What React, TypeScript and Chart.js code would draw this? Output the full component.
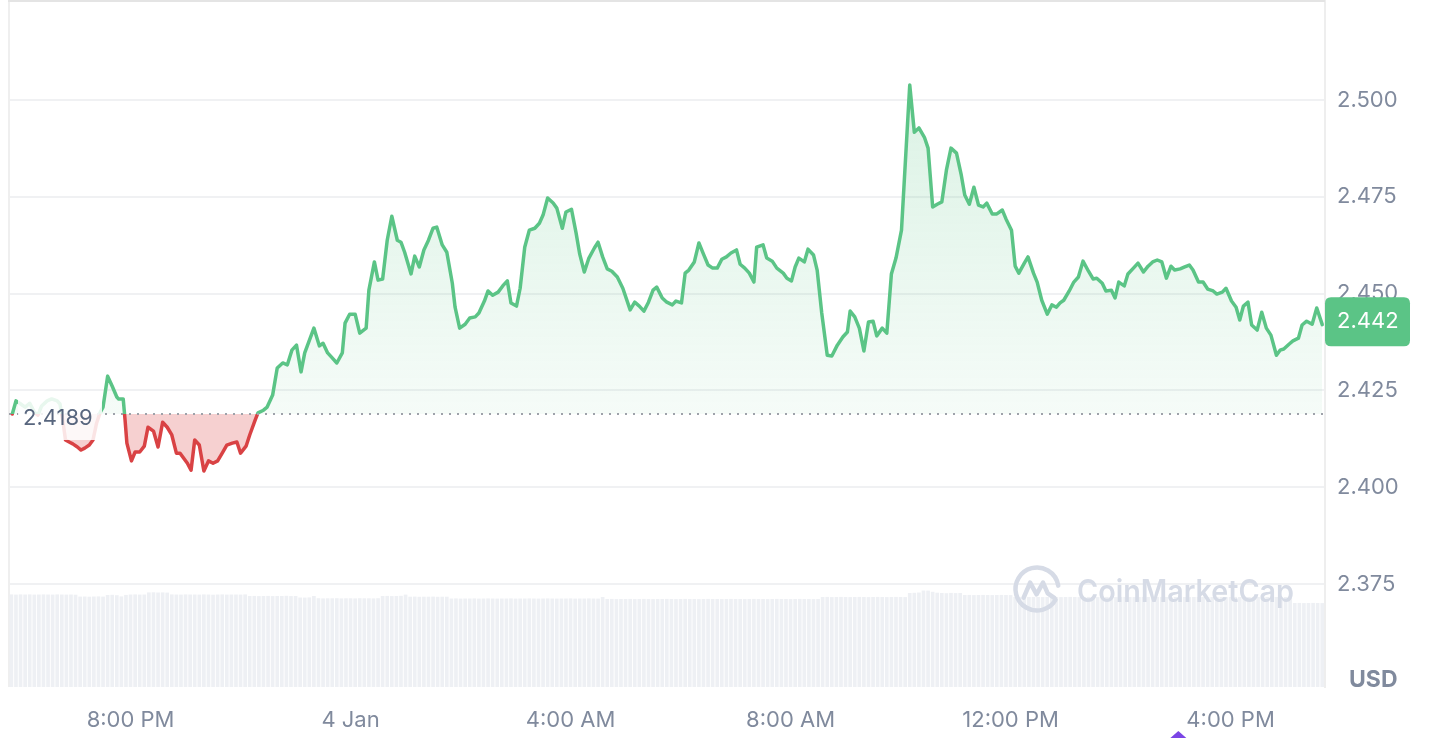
import React, { useEffect, useRef } from 'react';
import { Chart, registerables } from 'chart.js';

Chart.register(...registerables);

// Minutes since 00:00 on 3 Jan (1200 = 8:00 PM, 1440 = 4 Jan 00:00)
const TIMES = [
  1071, 1075, 1079, 1085, 1090, 1095, 1099, 1103, 1109, 1114, 1120, 1123, 1126, 1129, 1133, 1137, 1142, 1146, 1150, 1155,
  1159, 1163, 1167, 1170, 1175, 1180, 1185, 1187, 1192, 1194, 1196, 1201, 1205, 1210, 1215, 1219, 1225, 1230, 1235, 1240,
  1245, 1250, 1254, 1257, 1262, 1266, 1270, 1275, 1280, 1285, 1290, 1295, 1300, 1305, 1311, 1316, 1320, 1326, 1330, 1336,
  1339, 1345, 1349, 1355, 1360, 1366, 1371, 1376, 1381, 1386, 1390, 1400, 1406, 1410, 1415, 1420, 1425, 1431, 1434, 1439,
  1445, 1450, 1457, 1460, 1466, 1470, 1475, 1480, 1485, 1491, 1495, 1499, 1506, 1510, 1515, 1520, 1525, 1530, 1534, 1540,
  1545, 1551, 1554, 1559, 1565, 1570, 1576, 1580, 1586, 1590, 1595, 1601, 1606, 1611, 1615, 1621, 1625, 1630, 1635, 1641,
  1646, 1650, 1655, 1661, 1665, 1671, 1675, 1681, 1686, 1690, 1695, 1700, 1706, 1710, 1715, 1720, 1725, 1731, 1737, 1745,
  1750, 1755, 1760, 1765, 1770, 1774, 1780, 1785, 1791, 1795, 1801, 1805, 1809, 1815, 1820, 1825, 1830, 1835, 1840, 1845,
  1850, 1855, 1861, 1865, 1870, 1875, 1880, 1883, 1890, 1894, 1900, 1905, 1912, 1916, 1921, 1925, 1929, 1935, 1939, 1945,
  1949, 1954, 1960, 1965, 1971, 1977, 1982, 1985, 1990, 1995, 2000, 2005, 2010, 2014, 2020, 2025, 2030, 2035, 2041, 2050,
  2055, 2060, 2066, 2070, 2075, 2080, 2085, 2090, 2095, 2101, 2106, 2110, 2115, 2120, 2125, 2130, 2134, 2140, 2145, 2151,
  2155, 2161, 2165, 2169, 2175, 2179, 2185, 2189, 2194, 2200, 2205, 2210, 2214, 2218, 2224, 2229, 2234, 2239, 2245, 2250,
  2254, 2260, 2264, 2270, 2274, 2278, 2284, 2288, 2294, 2299, 2305, 2310, 2315, 2320, 2325, 2330, 2335, 2339, 2345, 2350,
  2355, 2359, 2365, 2370, 2375, 2381, 2385, 2391, 2395, 2401, 2406, 2410, 2414, 2419, 2423, 2429, 2434, 2439, 2444, 2450,
  2454, 2458, 2464, 2468, 2474, 2478, 2483, 2489, 2494, 2500,
];

const PRICES = [
  2.4189, 2.4223, 2.4217, 2.4207, 2.4217, 2.4194, 2.4186, 2.4210, 2.4223, 2.4228, 2.4223, 2.4215, 2.4174, 2.4122, 2.4117, 2.4112, 2.4104, 2.4096, 2.4101, 2.4109,
  2.4122, 2.4166, 2.4194, 2.4207, 2.4287, 2.4261, 2.4233, 2.4228, 2.4228, 2.4174, 2.4114, 2.4068, 2.4091, 2.4091, 2.4106, 2.4155, 2.4145, 2.4104, 2.4168, 2.4155,
  2.4135, 2.4088, 2.4088, 2.4078, 2.4062, 2.4044, 2.4122, 2.4109, 2.4042, 2.4068, 2.4062, 2.4068, 2.4088, 2.4109, 2.4114, 2.4117, 2.4088, 2.4106, 2.4135, 2.4174,
  2.4192, 2.4199, 2.4207, 2.4238, 2.4308, 2.4321, 2.4316, 2.4354, 2.4367, 2.4298, 2.4347, 2.4411, 2.4365, 2.4372, 2.4347, 2.4334, 2.4321, 2.4347, 2.4424, 2.4447,
  2.4447, 2.4398, 2.4411, 2.4509, 2.4582, 2.4535, 2.4538, 2.4638, 2.4700, 2.4638, 2.4633, 2.4607, 2.4551, 2.4597, 2.4569, 2.4613, 2.4638, 2.4669, 2.4672, 2.4626,
  2.4607, 2.4527, 2.4465, 2.4411, 2.4421, 2.4437, 2.4440, 2.4450, 2.4481, 2.4507, 2.4496, 2.4504, 2.4520, 2.4533, 2.4476, 2.4468, 2.4514, 2.4620, 2.4664, 2.4669,
  2.4682, 2.4703, 2.4747, 2.4734, 2.4721, 2.4669, 2.4711, 2.4718, 2.4657, 2.4602, 2.4556, 2.4592, 2.4618, 2.4633, 2.4595, 2.4564, 2.4558, 2.4543, 2.4514, 2.4458,
  2.4478, 2.4468, 2.4455, 2.4478, 2.4509, 2.4517, 2.4489, 2.4478, 2.4471, 2.4481, 2.4476, 2.4553, 2.4561, 2.4582, 2.4631, 2.4602, 2.4574, 2.4566, 2.4566, 2.4589,
  2.4595, 2.4605, 2.4613, 2.4576, 2.4566, 2.4553, 2.4530, 2.4620, 2.4626, 2.4592, 2.4584, 2.4566, 2.4553, 2.4540, 2.4533, 2.4569, 2.4592, 2.4582, 2.4615, 2.4600,
  2.4561, 2.4450, 2.4341, 2.4339, 2.4367, 2.4388, 2.4401, 2.4455, 2.4440, 2.4411, 2.4352, 2.4427, 2.4429, 2.4391, 2.4411, 2.4398, 2.4551, 2.4592, 2.4664, 2.5039,
  2.4917, 2.4928, 2.4904, 2.4876, 2.4724, 2.4731, 2.4737, 2.4819, 2.4876, 2.4863, 2.4809, 2.4755, 2.4731, 2.4775, 2.4729, 2.4724, 2.4734, 2.4706, 2.4706, 2.4716,
  2.4693, 2.4664, 2.4571, 2.4553, 2.4579, 2.4595, 2.4553, 2.4530, 2.4483, 2.4447, 2.4471, 2.4465, 2.4476, 2.4483, 2.4507, 2.4530, 2.4543, 2.4584, 2.4558, 2.4538,
  2.4540, 2.4527, 2.4507, 2.4509, 2.4489, 2.4530, 2.4520, 2.4551, 2.4566, 2.4579, 2.4556, 2.4571, 2.4582, 2.4587, 2.4582, 2.4540, 2.4571, 2.4561, 2.4564, 2.4569,
  2.4574, 2.4561, 2.4530, 2.4530, 2.4512, 2.4507, 2.4499, 2.4504, 2.4514, 2.4481, 2.4465, 2.4432, 2.4468, 2.4478, 2.4419, 2.4406, 2.4452, 2.4411, 2.4393, 2.4341,
  2.4354, 2.4357, 2.4370, 2.4378, 2.4385, 2.4419, 2.4429, 2.4421, 2.4463, 2.4420,
];

const BASE_PRICE = 2.4189;

// Volume bars (relative units), one per 5 minutes from 17:50 on 3 Jan
const VOLUME_START = 1070;
const VOLUME_STEP = 5;
const VOLUMES = [
  92.6, 92.4, 92.6, 92.5, 92.6, 92.4, 92.5, 92.6, 92.5, 92.4, 92.6, 92.5, 92.4, 92.5, 92.3,
  90.4, 90.5, 90.3, 90.5, 90.6, 90.4,
  92.0, 92.2, 91.8, 90.6, 92.1,
  92.5, 92.6, 92.4, 92.5,
  94.6, 94.7, 94.5, 94.6, 94.4,
  92.6, 92.5, 92.4, 92.6, 92.5, 92.5, 92.4, 92.6, 92.5, 92.3, 92.5, 92.6, 92.4, 92.5, 92.5, 92.4, 92.6,
  91.0, 91.1, 90.9, 91.0, 91.1, 90.9, 91.0, 91.0, 91.2, 90.9, 91.0,
  89.5, 89.4, 89.6, 91.0,
  88.8, 88.6, 88.7, 88.7, 88.8, 88.6, 88.7, 88.7, 88.6, 88.8, 88.7, 88.7, 88.6, 88.8,
  91.0, 91.1, 90.9, 91.0, 91.2, 92.4,
  90.3, 90.4, 90.2, 90.3, 90.3, 90.4, 90.2, 90.3, 90.3,
  88.5, 88.6, 88.4, 88.5, 88.5, 88.6, 88.4, 88.5, 88.6, 88.5, 88.4,
  88.5, 88.5, 88.6, 88.4, 88.5, 88.5, 88.6, 88.5, 88.4, 88.5, 88.6,
  88.5, 88.4, 88.5, 88.5, 88.6, 88.4, 88.5, 88.5, 88.6, 88.5, 88.4,
  90.0,
  88.0, 88.1, 87.9, 88.0, 88.0, 88.1, 87.9, 88.0, 88.1, 88.0,
  87.9, 88.0, 88.0, 88.1, 88.0, 87.9, 88.0, 88.1, 88.0, 88.0,
  87.9, 88.0, 88.1, 88.0, 88.0, 87.9, 88.0, 88.1, 88.0, 88.0,
  87.9, 88.0, 88.1, 88.0, 88.0, 87.9, 88.0, 88.1, 88.0, 88.0,
  87.9, 88.0, 88.1, 88.0, 88.0, 87.9, 88.0,
  90.0, 90.1, 89.9, 90.0, 90.1, 90.0, 89.9, 90.0, 90.1, 90.0,
  89.9, 90.0, 90.1, 90.0, 89.9, 90.0, 90.1, 90.0, 89.9,
  94.0, 94.2, 94.5, 96.5, 96.4, 95.2, 94.3, 94.0, 93.8, 94.1, 93.9, 94.0,
  92.0, 92.1, 91.9, 92.0, 92.1, 92.0, 91.9, 92.0, 92.1, 92.0, 91.9,
  90.0, 90.1, 89.9, 90.0, 90.1, 90.0, 89.9, 90.0, 90.1, 90.0,
  89.9, 90.0, 90.1, 90.0, 89.9, 90.0, 90.1, 90.0, 89.9, 90.0,
  90.1, 90.0, 89.9, 90.0, 90.1, 90.0, 89.9, 90.0, 90.1, 90.0,
  89.9, 90.0, 90.1, 90.0, 89.9, 90.0, 90.1, 90.0, 89.9, 90.0,
  90.1, 90.0, 89.9, 90.0, 90.1, 90.0, 89.9, 90.0, 90.1, 90.0,
  89.9, 90.0, 90.1, 90.0, 89.9, 90.0, 90.1, 90.0, 89.9, 90.0,
  90.0,
  84.0, 84.1, 83.9, 84.0, 84.1, 84.0, 83.9,
];

const X_TICK_TIMES = [1200, 1440, 1680, 1920, 2160, 2400];
const X_TICK_LABELS = ['8:00 PM', '4 Jan', '4:00 AM', '8:00 AM', '12:00 PM', '4:00 PM'];
const Y_TICKS = [2.375, 2.4, 2.425, 2.45, 2.475, 2.5];
const MARKER_TIMES = [2343];

const X_MIN = 1067.4;
const X_MAX = 2503;
const Y_MIN = 2.3484;
const Y_MAX = 2.5256;

const GREEN = '#5bc486';
const RED = '#d94244';
const RED_FILL = 'rgba(220,68,68,0.25)';
const TICK_COLOR = '#808a9d';
const GRID_COLOR = '#f0f1f3';
const WATERMARK = '#d6dbe6';
const FONT = 'Inter';

function lineGradient(chart: any) {
  const { ctx, chartArea, scales } = chart;
  if (!chartArea || !scales || !scales.y) return GREEN;
  const by = scales.y.getPixelForValue(BASE_PRICE);
  const g = ctx.createLinearGradient(0, chartArea.top, 0, chartArea.bottom);
  const f = Math.min(Math.max((by - chartArea.top) / (chartArea.bottom - chartArea.top), 0), 1);
  g.addColorStop(0, GREEN);
  g.addColorStop(f, GREEN);
  g.addColorStop(f, RED);
  g.addColorStop(1, RED);
  return g;
}

function fillGradient(chart: any) {
  const { ctx, chartArea, scales } = chart;
  if (!chartArea || !scales || !scales.y) return 'rgba(91,196,134,0.12)';
  const by = scales.y.getPixelForValue(BASE_PRICE);
  const g = ctx.createLinearGradient(0, chartArea.top, 0, by);
  g.addColorStop(0, 'rgba(91,196,134,0.26)');
  g.addColorStop(1, 'rgba(91,196,134,0.06)');
  return g;
}

function roundRect(ctx: CanvasRenderingContext2D, x: number, y: number, w: number, h: number, r: number) {
  ctx.beginPath();
  ctx.moveTo(x + r, y);
  ctx.lineTo(x + w - r, y);
  ctx.quadraticCurveTo(x + w, y, x + w, y + r);
  ctx.lineTo(x + w, y + h - r);
  ctx.quadraticCurveTo(x + w, y + h, x + w - r, y + h);
  ctx.lineTo(x + r, y + h);
  ctx.quadraticCurveTo(x, y + h, x, y + h - r);
  ctx.lineTo(x, y + r);
  ctx.quadraticCurveTo(x, y, x + r, y);
  ctx.closePath();
}

const overlayPlugin = {
  id: 'cmcOverlay',
  beforeDatasetsDraw(chart: any) {
    const { ctx, chartArea: a } = chart;
    ctx.save();
    ctx.lineWidth = 2;
    ctx.strokeStyle = '#efefef';
    ctx.beginPath();
    ctx.moveTo(a.left, a.top);
    ctx.lineTo(a.left, a.bottom);
    ctx.stroke();
    ctx.strokeStyle = '#e4e4e4';
    ctx.beginPath();
    ctx.moveTo(a.left - 1, a.top);
    ctx.lineTo(a.right, a.top);
    ctx.stroke();
    ctx.restore();
  },
  afterDatasetsDraw(chart: any) {
    const { ctx, chartArea: a, scales } = chart;
    const by = scales.y.getPixelForValue(BASE_PRICE);
    ctx.save();
    // dotted reference line
    ctx.strokeStyle = '#9ea2aa';
    ctx.lineWidth = 2;
    ctx.setLineDash([2, 6]);
    ctx.beginPath();
    ctx.moveTo(a.left, by);
    ctx.lineTo(a.right, by);
    ctx.stroke();
    ctx.setLineDash([]);

    // watermark logo
    const cx = a.right - 288;
    const cy = a.bottom - 98;
    const r = 21.5;
    ctx.strokeStyle = WATERMARK;
    ctx.lineWidth = 4.5;
    ctx.lineCap = 'round';
    ctx.lineJoin = 'round';
    ctx.beginPath();
    ctx.arc(cx, cy, r, 0.17 * Math.PI, 1.95 * Math.PI);
    ctx.stroke();
    ctx.beginPath();
    ctx.moveTo(cx - 0.62 * r, cy + 0.4 * r);
    ctx.lineTo(cx - 0.32 * r, cy - 0.3 * r);
    ctx.lineTo(cx - 0.02 * r, cy + 0.25 * r);
    ctx.lineTo(cx + 0.28 * r, cy - 0.3 * r);
    ctx.lineTo(cx + 0.5 * r, cy + 0.2 * r);
    ctx.lineTo(cx + 0.82 * r, cy + 0.42 * r);
    ctx.stroke();

    // watermark text
    ctx.fillStyle = WATERMARK;
    ctx.font = `600 31px ${FONT}`;
    ctx.textBaseline = 'alphabetic';
    ctx.textAlign = 'left';
    const wmText = 'CoinMarketCap';
    const w = ctx.measureText(wmText).width;
    const targetW = 217;
    ctx.save();
    ctx.translate(a.right - 248, a.bottom - 85);
    ctx.scale(targetW / w, 1);
    ctx.fillText(wmText, 0, 0);
    ctx.restore();

    // base price label with translucent box
    const bx = a.left + 9;
    const bw = 84;
    const bTop = by - 18;
    const bh = 44;
    ctx.fillStyle = 'rgba(255,255,255,0.86)';
    roundRect(ctx, bx, bTop, bw, bh, 4);
    ctx.fill();
    ctx.fillStyle = '#58667e';
    ctx.font = `22px ${FONT}`;
    ctx.textBaseline = 'middle';
    ctx.fillText(BASE_PRICE.toFixed(4), a.left + 14, by + 4);
    ctx.restore();
  },
  afterDraw(chart: any) {
    const { ctx, chartArea: a, scales } = chart;
    const last = PRICES[PRICES.length - 1];
    const py = scales.y.getPixelForValue(last) - 3;
    ctx.save();
    ctx.fillStyle = GREEN;
    roundRect(ctx, a.right, py - 24.5, 85, 49, 6);
    ctx.fill();
    ctx.fillStyle = '#ffffff';
    ctx.font = `22px ${FONT}`;
    ctx.textBaseline = 'middle';
    ctx.textAlign = 'left';
    ctx.fillText(last.toFixed(3), a.right + 12, py);

    ctx.fillStyle = TICK_COLOR;
    ctx.font = `bold 23px ${FONT}`;
    ctx.fillText('USD', a.right + 24, a.bottom - 7);

    ctx.fillStyle = '#7b45e5';
    MARKER_TIMES.forEach((t) => {
      const mx = scales.x.getPixelForValue(t);
      const top = a.bottom + 44;
      ctx.beginPath();
      ctx.moveTo(mx, top);
      ctx.lineTo(mx + 16, top + 14);
      ctx.lineTo(mx - 16, top + 14);
      ctx.closePath();
      ctx.fill();
    });
    ctx.restore();
  },
};

export default function App() {
  const ref = useRef<HTMLCanvasElement>(null);

  useEffect(() => {
    if (!ref.current) return;
    Chart.defaults.font.family = FONT;
    const chart = new Chart(ref.current, {
      type: 'line',
      data: {
        datasets: [
          {
            type: 'line',
            label: 'Price',
            data: TIMES.map((t, i) => ({ x: t, y: PRICES[i] })),
            xAxisID: 'x',
            yAxisID: 'y',
            borderColor: (c: any) => lineGradient(c.chart),
            backgroundColor: (c: any) => fillGradient(c.chart),
            fill: { target: { value: BASE_PRICE }, below: RED_FILL },
            borderWidth: 3.5,
            pointRadius: 0,
            pointHoverRadius: 0,
            tension: 0,
            borderJoinStyle: 'round',
            borderCapStyle: 'round',
            order: 1,
          } as any,
          {
            type: 'bar',
            label: 'Volume',
            data: VOLUMES.map((v, i) => ({ x: VOLUME_START + i * VOLUME_STEP, y: v })),
            xAxisID: 'x',
            yAxisID: 'yv',
            backgroundColor: '#eef0f4',
            borderWidth: 0,
            barPercentage: 0.8,
            categoryPercentage: 1,
            order: 2,
          } as any,
        ],
      },
      options: {
        responsive: false,
        animation: false,
        devicePixelRatio: 1,
        layout: { padding: { left: 9, top: 1, right: 0, bottom: 0 } },
        plugins: {
          legend: { display: false },
          tooltip: { enabled: false },
        },
        events: [],
        scales: {
          x: {
            type: 'linear',
            position: 'bottom',
            offset: false,
            min: X_MIN,
            max: X_MAX,
            grid: { display: false, offset: false },
            border: { display: false },
            ticks: {
              color: TICK_COLOR,
              font: { size: 22, family: FONT },
              padding: 12,
              maxRotation: 0,
              autoSkip: false,
              callback: (v: any) => {
                const i = X_TICK_TIMES.indexOf(Number(v));
                return i >= 0 ? X_TICK_LABELS[i] : '';
              },
            },
            afterBuildTicks: (s: any) => {
              s.ticks = X_TICK_TIMES.map((v) => ({ value: v }));
            },
            afterFit: (s: any) => {
              s.height = 51;
              s.paddingLeft = 0;
              s.paddingRight = 0;
              s.paddingTop = 0;
              s.paddingBottom = 0;
            },
          },
          y: {
            type: 'linear',
            position: 'right',
            min: Y_MIN,
            max: Y_MAX,
            grid: { color: GRID_COLOR, lineWidth: 2, drawTicks: false },
            border: { display: true, color: '#eeeeee', width: 2 },
            ticks: {
              color: TICK_COLOR,
              font: { size: 22, family: FONT },
              padding: 12,
              callback: (v: any) => Number(v).toFixed(3),
            },
            afterBuildTicks: (s: any) => {
              s.ticks = Y_TICKS.map((v) => ({ value: v }));
            },
            afterFit: (s: any) => {
              s.width = 111;
              s.paddingLeft = 0;
              s.paddingRight = 0;
              s.paddingTop = 0;
              s.paddingBottom = 0;
            },
          },
          yv: {
            type: 'linear',
            display: false,
            min: 0,
            max: 686,
          },
        },
      } as any,
      plugins: [overlayPlugin],
    });
    return () => chart.destroy();
  }, []);

  return (
    <div style={{ position: 'fixed', left: 0, top: 0, width: 1436, height: 738, background: '#ffffff' }}>
      <canvas ref={ref} width={1436} height={738} style={{ display: 'block', width: 1436, height: 738 }} />
    </div>
  );
}
